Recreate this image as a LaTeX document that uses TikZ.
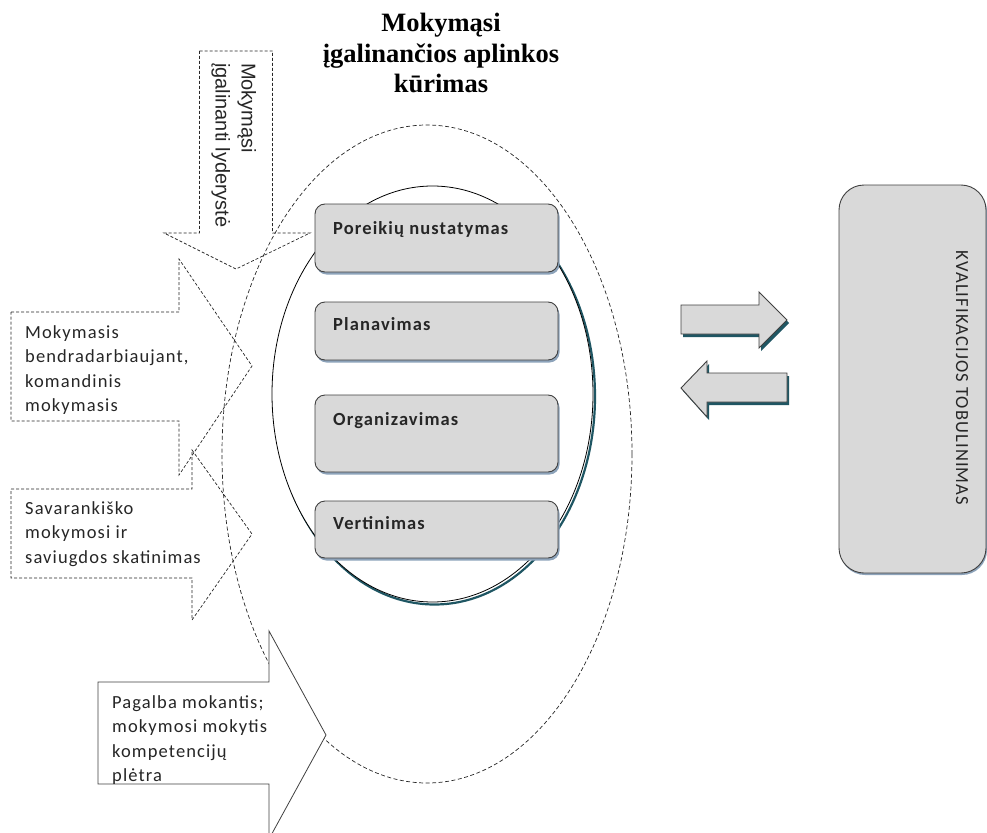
\documentclass[tikz,border=0pt]{standalone}
\usepackage{fontspec}
\setmainfont{Liberation Serif}
\newfontfamily\calfont[LetterSpace=6]{Carlito}
\newfontfamily\arialfont{Liberation Sans}
\usetikzlibrary{shadows}
\definecolor{boxgray}{HTML}{D9D9D9}
\definecolor{boxline}{HTML}{404040}
\definecolor{tealshadow}{HTML}{1F5663}
\definecolor{blueshadow}{HTML}{8DA3BA}
\definecolor{txt}{HTML}{262626}
\tikzset{
  dashline/.style={draw=black!85, line width=0.7pt, dash pattern=on 3pt off 2pt},
  bigdash/.style={draw=black!85, line width=0.7pt, dash pattern=on 4pt off 2.5pt},
  stagebox/.style={draw=boxline, fill=boxgray, rounded corners=10pt, line width=0.9pt,
    minimum width=243pt, inner sep=0pt,
    drop shadow={shadow xshift=1.5pt, shadow yshift=-2.5pt, fill=blueshadow, opacity=1}},
  stagetext/.style={anchor=base west, inner sep=0pt, text=txt,
    font=\calfont\bfseries\fontsize{18.5}{22}\selectfont},
  arrtext/.style={anchor=base west, inner sep=0pt, text=txt,
    font=\calfont\fontsize{18.5}{24.5}\selectfont},
  sidearrow/.style={draw=boxline, fill=boxgray, line width=0.9pt,
    drop shadow={shadow xshift=2pt, shadow yshift=-3pt, fill=tealshadow, opacity=1}}
}
\begin{document}
\begin{tikzpicture}[x=1pt,y=-1pt]
\useasboundingbox (0,0) rectangle (987,832);

% large dashed ellipse
\draw[bigdash] (427,454) ellipse [x radius=205pt, y radius=329pt];

% dashed arrows
\draw[dashline] (199.5,51) -- (272.5,51) -- (272.5,233) -- (310,233) -- (236,269)
  -- (164,233) -- (199.5,233) -- cycle;
\draw[dashline] (11,312) -- (179,312) -- (179,259) -- (252,366) -- (179,475)
  -- (179,421) -- (11,421) -- cycle;
\draw[dashline] (11,489) -- (192,489) -- (192,450) -- (252,534) -- (192,620)
  -- (192,578) -- (11,578) -- cycle;
% solid arrow
\draw[draw=boxline, fill=white, line width=0.8pt] (98,682) -- (269,682) -- (269,631)
  -- (326,735) -- (269,839) -- (269,784) -- (98,784) -- cycle;

% inner ellipse with shadow
\draw[tealshadow, line width=2.2pt] (434.5,396.5) ellipse [x radius=160.5pt, y radius=208pt];
\draw[black, fill=white, line width=0.8pt] (432.5,394) ellipse [x radius=160.5pt, y radius=208pt];

% stage boxes
\node[stagebox, minimum height=68pt] (b1) at (436.5,238) {};
\node[stagebox, minimum height=58pt] (b2) at (436.5,331) {};
\node[stagebox, minimum height=77pt] (b3) at (436.5,433.5) {};
\node[stagebox, minimum height=57pt] (b4) at (436.5,529.5) {};
\node[stagetext] (b1t) at (333,234) {Poreikių nustatymas};
\node[stagetext] (b2t) at (333,330) {Planavimas};
\node[stagetext] (b3t) at (333,425) {Organizavimas};
\node[stagetext] (b4t) at (333,529) {Vertinimas};

% side arrows
\draw[sidearrow] (681,305) -- (759,305) -- (759,292) -- (787,320) -- (759,348)
  -- (759,334) -- (681,334) -- cycle;
\draw[sidearrow] (787,373) -- (707,373) -- (707,361) -- (681,388) -- (707,417)
  -- (707,402) -- (787,402) -- cycle;

% right box
\node[draw=boxline, fill=boxgray, rounded corners=25pt, minimum width=147pt,
  minimum height=388pt, line width=0.9pt, inner sep=0pt,
  drop shadow={shadow xshift=1pt, shadow yshift=-2pt, fill=blueshadow, opacity=1}]
  (kval) at (912.5,379) {};
\node[rotate=-90, inner sep=0pt, text=txt, font=\calfont\fontsize{18.5}{22}\selectfont]
  (kvaltxt) at (962,378) {KVALIFIKACIJOS TOBULINIMAS};

% arrow texts
\node[rotate=-90, anchor=base west, inner sep=0pt, text=txt,
  font=\arialfont\fontsize{20}{26}\selectfont] (t1) at (241.5,63)
  {\vtop{\hbox{Mokymąsi}\hbox{įgalinanti lyderystė}}};
\node[arrtext] (t2) at (25,338)
  {\vtop{\hbox{Mokymasis}\hbox{bendradarbiaujant,}\hbox{komandinis}\hbox{mokymasis}}};
\node[arrtext] (t3) at (25,514)
  {\vtop{\hbox{Savarankiško}\hbox{mokymosi ir}\hbox{saviugdos skatinimas}}};
\node[arrtext] (t4) at (112,708)
  {\vtop{\hbox{Pagalba mokantis;}\hbox{mokymosi mokytis}\hbox{kompetencijų}\hbox{plėtra}}};

% title
\node[anchor=north, inner sep=0pt, align=center,
  font=\bfseries\fontsize{26.5}{30.5}\selectfont] (title) at (441,13)
  {Mokymąsi\\įgalinančios aplinkos\\kūrimas};
\end{tikzpicture}
\end{document}
